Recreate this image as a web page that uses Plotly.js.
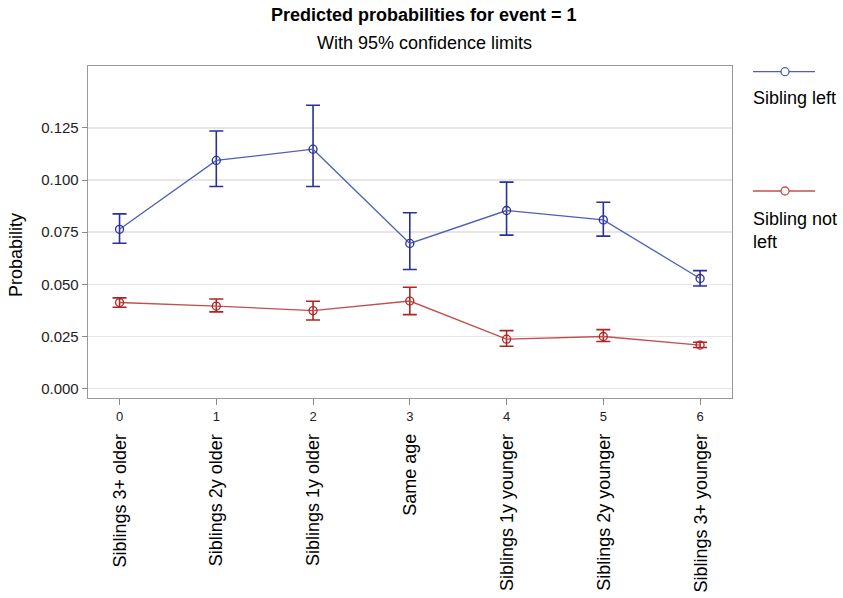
<!DOCTYPE html>
<html>
<head>
<meta charset="utf-8">
<script src="https://cdn.plot.ly/plotly-3.0.1.min.js"></script>
<style>html,body{margin:0;padding:0;background:#fff;}#chart{width:843px;height:598px;}</style>
</head>
<body>
<div id="chart"></div>
<script>
var categories = ["Siblings 3+ older","Siblings 2y older","Siblings 1y older","Same age","Siblings 1y younger","Siblings 2y younger","Siblings 3+ younger"];
var xIndex = [0,1,2,3,4,5,6];
var leftProb  = [0.0764,0.1094,0.1148,0.0696,0.0854,0.0809,0.0528];
var leftUpper = [0.0838,0.1235,0.1359,0.0843,0.0990,0.0894,0.0566];
var leftLower = [0.0697,0.0969,0.0969,0.0571,0.0736,0.0731,0.0492];
var notProb   = [0.0413,0.0396,0.0374,0.0420,0.0237,0.0250,0.0209];
var notUpper  = [0.0435,0.0430,0.0419,0.0486,0.0278,0.0283,0.0222];
var notLower  = [0.0390,0.0368,0.0329,0.0355,0.0203,0.0226,0.0197];
var yTicks = [0,0.025,0.05,0.075,0.1,0.125];
var yTickText = ["0.000","0.025","0.050","0.075","0.100","0.125"];

function diff(a,b){return a.map(function(v,i){return +(v-b[i]).toFixed(5);});}

var FONT = "Liberation Sans, Arial, sans-serif";
var blueLine = "#4f5fb8", blueErr = "#2a2f9a";
var redLine = "#c0504d", redErr = "#b02424";

var traces = [
 {x:xIndex, y:leftProb, type:"scatter", mode:"lines+markers", name:"Sibling left",
  line:{color:blueLine,width:1.3}, marker:{symbol:"circle-open",size:8,color:blueErr,line:{width:1.3}},
  error_y:{type:"data",symmetric:false,array:diff(leftUpper,leftProb),arrayminus:diff(leftProb,leftLower),color:blueErr,thickness:1.6,width:7}},
 {x:xIndex, y:notProb, type:"scatter", mode:"lines+markers", name:"Sibling not left",
  line:{color:redLine,width:1.3}, marker:{symbol:"circle-open",size:8,color:redErr,line:{width:1.3}},
  error_y:{type:"data",symmetric:false,array:diff(notUpper,notProb),arrayminus:diff(notProb,notLower),color:redErr,thickness:1.6,width:7}}
];

var L=88, R=111, T=66, B=200, W=843, H=598;
var pw = W-L-R, ph = H-T-B;
function px2x(px){return (px-L)/pw;}
function py2y(py){return (H-B-py)/ph;}

var annotations = [
 {text:"<b>Predicted probabilities for event = 1</b>", xref:"paper", yref:"paper", x:px2x(424), y:py2y(15), showarrow:false, font:{family:FONT,size:18,color:"#000"}, xanchor:"center", yanchor:"middle"},
 {text:"With 95% confidence limits", xref:"paper", yref:"paper", x:px2x(424), y:py2y(43), showarrow:false, font:{family:FONT,size:18,color:"#000"}, xanchor:"center", yanchor:"middle"},
 {text:"Probability", xref:"paper", yref:"paper", x:px2x(16), y:py2y(255), showarrow:false, textangle:-90, font:{family:FONT,size:18,color:"#000"}, xanchor:"center", yanchor:"middle"},
 {text:"Sibling left", xref:"paper", yref:"paper", x:px2x(751), y:py2y(98), showarrow:false, font:{family:FONT,size:18,color:"#000"}, xanchor:"left", yanchor:"middle", align:"left"},
 {text:"Sibling not<br>left", xref:"paper", yref:"paper", x:px2x(751), y:py2y(230), showarrow:false, font:{family:FONT,size:18,color:"#000"}, xanchor:"left", yanchor:"middle", align:"left"}
];
categories.forEach(function(c,i){
 annotations.push({text:c, xref:"x", yref:"paper", x:xIndex[i], y:py2y(432), showarrow:false, textangle:-90, font:{family:FONT,size:18,color:"#000"}, xanchor:"center", yanchor:"top"});
});

function legendShapes(py, lc, mc){
 return [
  {type:"line", xref:"paper", yref:"paper", x0:px2x(753), x1:px2x(815), y0:py2y(py), y1:py2y(py), line:{color:lc,width:1.3}},
  {type:"circle", xref:"paper", yref:"paper", xsizemode:"pixel", ysizemode:"pixel", xanchor:px2x(785), yanchor:py2y(py), x0:-4, x1:4, y0:-4, y1:4, line:{color:mc,width:1.3}, fillcolor:"#fff"}
 ];
}
var shapes = legendShapes(71.7, blueLine, blueLine).concat(legendShapes(191, redLine, redLine));

var layout = {
 width:W, height:H, margin:{l:L,r:R,t:T,b:B,pad:0},
 paper_bgcolor:"#fff", plot_bgcolor:"#fff", showlegend:false,
 font:{family:FONT,color:"#222"},
 xaxis:{range:[-0.326,6.33], tickvals:xIndex, ticktext:xIndex.map(String), ticks:"outside", ticklen:6, tickcolor:"#888", tickwidth:1,
   tickfont:{family:FONT,size:13,color:"#222"}, showgrid:false, zeroline:false, showline:true, linecolor:"#999", linewidth:1.3, mirror:true},
 yaxis:{range:[-0.0045,0.1547], tickvals:yTicks, ticktext:yTickText, ticks:"outside", ticklen:5, tickcolor:"#888", tickwidth:1,
   tickfont:{family:FONT,size:15,color:"#222"}, showgrid:true, gridcolor:"#e6e6e6", gridwidth:1.5, zeroline:false, showline:true, linecolor:"#999", linewidth:1.3, mirror:true},
 annotations:annotations, shapes:shapes
};
Plotly.newPlot("chart", traces, layout, {displayModeBar:false, staticPlot:true});
</script>
</body>
</html>
